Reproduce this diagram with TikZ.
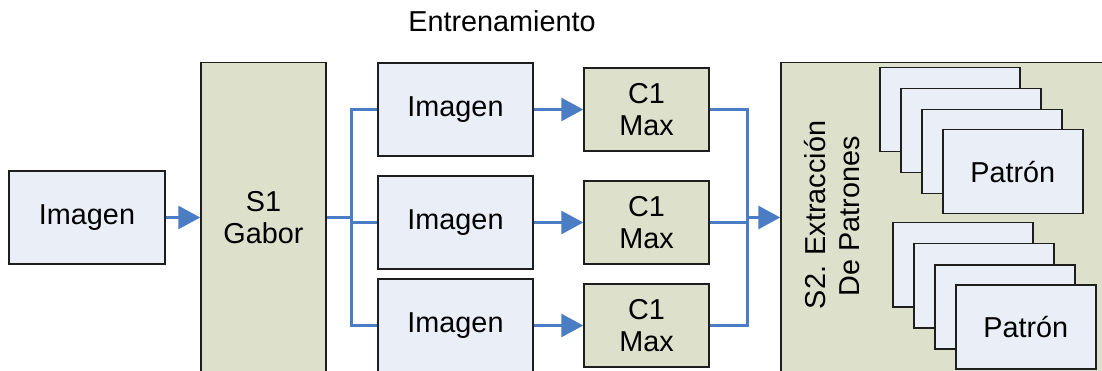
\documentclass[tikz,border=0pt]{standalone}
\usepackage{fontspec}
\setmainfont{Liberation Sans}
\usetikzlibrary{arrows.meta}

\definecolor{boxblue}{RGB}{234,239,247}
\definecolor{boxgreen}{RGB}{221,224,203}
\definecolor{wire}{RGB}{74,125,196}
\definecolor{edge}{RGB}{30,30,30}

\tikzset{
  lbl/.style={font=\fontsize{28.8}{32}\selectfont, align=center},
  bluebox/.style={draw=edge, line width=1.5pt, fill=boxblue, inner sep=0pt, lbl},
  greenbox/.style={draw=edge, line width=1.5pt, fill=boxgreen, inner sep=0pt, lbl},
  wirestyle/.style={draw=wire, line width=3pt},
  flow/.style={wirestyle, -{Triangle[length=22pt,width=23pt]}},
  sheet/.style={bluebox, minimum width=140pt, minimum height=84pt, anchor=north west},
}

\begin{document}
\begin{tikzpicture}[x=1pt, y=-1pt]
\useasboundingbox (0,0) rectangle (1102,371);
\clip (0,0) rectangle (1102,371);

% title
\node[lbl] (title) at (502,21) {Entrenamiento};

% input image and Gabor stage
\node[bluebox, minimum width=156pt, minimum height=93pt] (imgL) at (87,217.5) {Imagen};
\node[greenbox, minimum width=125pt, minimum height=310pt] (s1) at (263.5,217.5) {S1\\Gabor};

% three image branches
\node[bluebox, minimum width=155pt, minimum height=93pt] (im1) at (455.5,109.5) {Imagen};
\node[bluebox, minimum width=155pt, minimum height=93pt] (im2) at (455.5,222.5) {Imagen};
\node[bluebox, minimum width=155pt, minimum height=93pt] (im3) at (455.5,325.5) {Imagen};

% C1 max stages
\node[greenbox, minimum width=125pt, minimum height=83pt] (c1a) at (646.5,109.5) {C1\\Max};
\node[greenbox, minimum width=125pt, minimum height=83pt] (c1b) at (646.5,222.5) {C1\\Max};
\node[greenbox, minimum width=125pt, minimum height=83pt] (c1c) at (646.5,325.5) {C1\\Max};

% S2 pattern extraction block
\node[greenbox, minimum width=323pt, minimum height=310pt] (s2) at (942.5,217.5) {};
\node[lbl, rotate=90] (s2a) at (815,215) {S2. Extracción};
\node[lbl, rotate=90] (s2b) at (850,216) {De Patrones};

% first stack of patterns
\node[sheet] (pa1) at (879,67) {};
\node[sheet] (pa2) at (900,88) {};
\node[sheet] (pa3) at (921,109) {};
\node[sheet] (pa4) at (942,129) {Patrón};

% second stack of patterns
\node[sheet] (pb1) at (892,222) {};
\node[sheet] (pb2) at (913,243) {};
\node[sheet] (pb3) at (934,264) {};
\node[sheet] (pb4) at (955,284) {Patrón};

% connectors
\coordinate (j1) at (351,217.5);
\coordinate (j2) at (747,217.5);

\draw[flow] (imgL.east) -- (s1.west);

\draw[wirestyle] (s1.east) -- (j1);
\draw[wirestyle] (j1) |- (im1.west);
\draw[wirestyle] (j1) |- (im2.west);
\draw[wirestyle] (j1) |- (im3.west);

\draw[flow] (im1.east) -- (c1a.west);
\draw[flow] (im2.east) -- (c1b.west);
\draw[flow] (im3.east) -- (c1c.west);

\draw[wirestyle] (c1a.east) -| (j2);
\draw[wirestyle] (c1c.east) -| (j2);
\draw[wirestyle] (c1b.east) -- (j2 |- c1b.east);

\draw[flow] (j2) -- (s2.west);
\end{tikzpicture}
\end{document}
